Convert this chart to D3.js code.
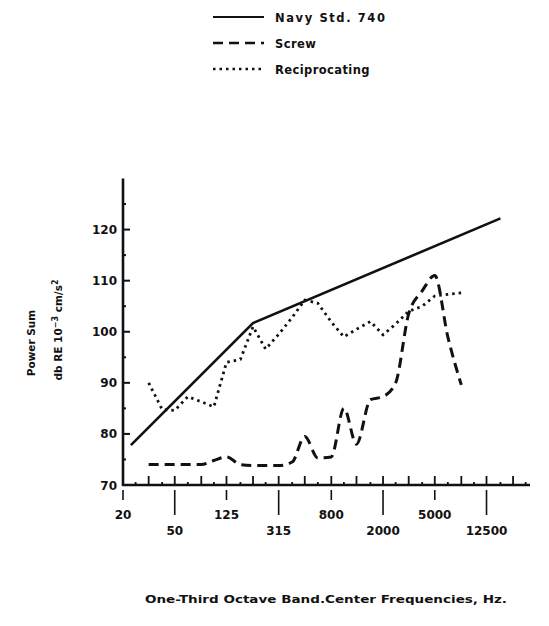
<!DOCTYPE html>
<html>
<head>
<meta charset="utf-8">
<script src="https://cdn.jsdelivr.net/npm/d3@7"></script>
<style>
  body { margin: 0; background: #fff; }
  text { font-family: "DejaVu Sans", sans-serif; font-weight: bold; fill: #111; }
</style>
</head>
<body>
<div id="chart"></div>
<script>
// Series values (frequency in Hz, level in dB)
const navyFreq = [23, 200, 16000];
const navyDb = [77.8, 101.7, 122.2];

const screwFreq = [31.5, 40, 50, 63, 80, 100, 125, 160, 200, 250, 315, 400, 500, 630, 800, 1000, 1250, 1600, 2000, 2500, 3150, 4000, 5000, 6300, 8000];
const screwDb = [74, 74, 74, 74, 74, 74.8, 75.5, 74, 73.8, 73.8, 73.8, 74.5, 79.5, 75.3, 75.5, 85, 78, 86.7, 87.3, 90, 103.5, 108, 111, 99, 89.6];

const recipFreq = [31.5, 40, 50, 63, 80, 100, 125, 160, 200, 250, 315, 400, 500, 630, 800, 1000, 1250, 1600, 2000, 2500, 3150, 4000, 5000, 6300, 8000];
const recipDb = [90, 84.8, 84.6, 87.3, 86.3, 85.3, 94, 94.6, 101, 96.6, 99.5, 102.8, 106.2, 105.6, 101.9, 99, 100.5, 102, 99.4, 101.5, 104, 105, 107, 107.3, 107.6];

const xTickValues = [20, 50, 125, 315, 800, 2000, 5000, 12500];
const yTickValues = [70, 80, 90, 100, 110, 120];
const bandFreqs = [25, 31.5, 40, 50, 63, 80, 100, 125, 160, 200, 250, 315, 400, 500, 630, 800, 1000, 1250, 1600, 2000, 2500, 3150, 4000, 5000, 6300, 8000, 10000, 12500, 16000, 20000, 25000];

const legendNames = ["Navy Std. 740", "Screw", "Reciprocating"];

const width = 549, height = 626;

const svg = d3.select('#chart')
    .append('svg')
    .attr('width', width)
    .attr('height', height);

const x = d3.scaleLog().domain([20, 27000]).range([123, 530]);
const y = d3.scaleLinear().domain([70, 130]).range([485, 178.5]);

// Axes lines
svg.append('line')
    .attr('x1', x(20)).attr('x2', x(20))
    .attr('y1', y(130)).attr('y2', y(70) + 1)
    .attr('stroke', '#111').attr('stroke-width', 2.6);
svg.append('line')
    .attr('x1', x(20) - 1).attr('x2', x(27000))
    .attr('y1', y(70)).attr('y2', y(70))
    .attr('stroke', '#111').attr('stroke-width', 2.6);

// Small ticks above x axis at third-octave bands
svg.selectAll('.band-tick')
    .data(bandFreqs)
    .enter()
    .append('line')
    .attr('class', 'band-tick')
    .attr('x1', d => x(d)).attr('x2', d => x(d))
    .attr('y1', y(70))
    .attr('y2', (d, i) => y(70) - (i % 2 === 1 ? 9 : 3))
    .attr('stroke', '#111')
    .attr('stroke-width', 1.8);

// Ticks below x axis at labelled frequencies
svg.selectAll('.x-tick')
    .data(xTickValues)
    .enter()
    .append('line')
    .attr('x1', d => x(d)).attr('x2', d => x(d))
    .attr('y1', y(70) + 5)
    .attr('y2', (d, i) => y(70) + (i % 2 === 0 ? 15 : 30))
    .attr('stroke', '#111')
    .attr('stroke-width', 1.6);

svg.selectAll('.x-label')
    .data(xTickValues)
    .enter()
    .append('text')
    .attr('x', d => x(d))
    .attr('y', (d, i) => i % 2 === 0 ? 519 : 535)
    .attr('text-anchor', 'middle')
    .style('font-size', '12px')
    .text(d => d);

// Y ticks
svg.selectAll('.y-tick')
    .data(d3.range(75, 130, 5))
    .enter()
    .append('line')
    .attr('x1', x(20)).attr('x2', d => x(20) + (d % 10 === 0 ? 7 : 3))
    .attr('y1', d => y(d)).attr('y2', d => y(d))
    .attr('stroke', '#111')
    .attr('stroke-width', 2);

svg.selectAll('.y-label')
    .data(yTickValues)
    .enter()
    .append('text')
    .attr('x', 117)
    .attr('y', d => y(d) + 4.5)
    .attr('text-anchor', 'end')
    .style('font-size', '12px')
    .text(d => d);

// Axis titles
svg.append('text')
    .attr('transform', 'translate(35,343) rotate(-90)')
    .attr('text-anchor', 'middle')
    .style('font-size', '10.5px')
    .text('Power Sum');

const yt = svg.append('text')
    .attr('transform', 'translate(62,330) rotate(-90)')
    .attr('text-anchor', 'middle')
    .style('font-size', '10.5px');
yt.append('tspan').text('db RE 10');
yt.append('tspan').attr('dy', -4).style('font-size', '8px').text('\u22123');
yt.append('tspan').attr('dy', 4).text(' cm/s');
yt.append('tspan').attr('dy', -4).style('font-size', '8px').text('2');

svg.append('text')
    .attr('x', 145)
    .attr('y', 603)
    .attr('textLength', 362)
    .attr('lengthAdjust', 'spacingAndGlyphs')
    .style('font-size', '10.5px')
    .text('One-Third Octave Band.Center Frequencies, Hz.');

// Series
const lineGen = (fx, curve) => d3.line()
    .x((d, i) => x(fx[i]))
    .y(d => y(d))
    .curve(curve);

svg.append('path')
    .attr('d', lineGen(navyFreq, d3.curveLinear)(navyDb))
    .attr('fill', 'none')
    .attr('stroke', '#111')
    .attr('stroke-width', 2.6);

svg.append('path')
    .attr('d', lineGen(screwFreq, d3.curveMonotoneX)(screwDb))
    .attr('fill', 'none')
    .attr('stroke', '#111')
    .attr('stroke-width', 3)
    .attr('stroke-dasharray', '10,6');

svg.append('path')
    .attr('d', lineGen(recipFreq, d3.curveLinear)(recipDb))
    .attr('fill', 'none')
    .attr('stroke', '#111')
    .attr('stroke-width', 2.8)
    .attr('stroke-dasharray', '2.5,4');

// Legend
const dashes = [null, '10,6', '2.5,4'];
const legend = svg.selectAll('.legend')
    .data(legendNames)
    .enter()
    .append('g')
    .attr('transform', (d, i) => `translate(0,${17 + i * 26})`);

legend.append('line')
    .attr('x1', 213).attr('x2', 264)
    .attr('stroke', '#111')
    .attr('stroke-width', (d, i) => i === 0 ? 1.8 : 2.6)
    .attr('stroke-dasharray', (d, i) => dashes[i]);

legend.append('text')
    .attr('x', 275)
    .attr('y', 4.5)
    .style('font-size', '11.5px')
    .style('letter-spacing', (d, i) => i === 0 ? '1.6px' : '0.4px')
    .text(d => d);
</script>
</body>
</html>
